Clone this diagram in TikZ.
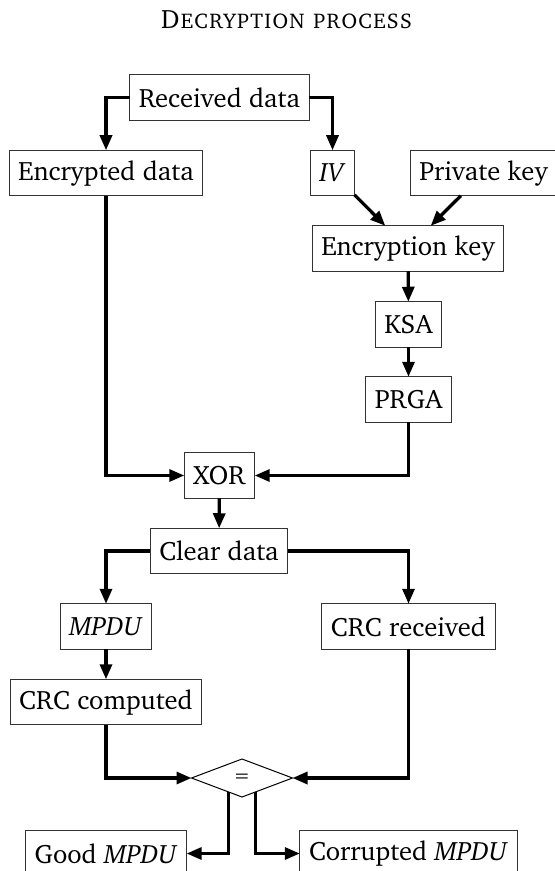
\documentclass[tikz,border=0pt]{standalone}
\usepackage[T1]{fontenc}
\usepackage{charter}
\usetikzlibrary{arrows.meta,shapes.geometric}
\newcommand\boxfont{\fontsize{13.3pt}{16pt}\selectfont}
\newcommand\signfont{\fontsize{10pt}{12pt}\selectfont}
\begin{document}
\begin{tikzpicture}[x=0.5pt,y=-0.5pt,
  box/.style={draw=black!80, line width=0.5pt, rectangle, inner xsep=4.6pt,
    inner ysep=0pt, minimum height=22.75pt, outer sep=0pt, font=\boxfont},
  link/.style={line width=1.6pt, -{Triangle[length=7.5pt,width=6pt]}},
  test/.style={draw=black, line width=0.5pt, diamond, inner sep=0pt, outer sep=0pt,
    minimum width=50.5pt, minimum height=19pt, font=\signfont}]
\useasboundingbox (0,0) rectangle (555,871);

\node[font=\boxfont, anchor=base] (title) at (286.5,28.3) {\textsc{Decryption process}};

% key schedule branch
\node[box] (recv)   at (219.5,97.5) {Received data};
\node[box] (enc)    at (106,173)    {Encrypted data};
\node[box] (iv)     at (332.5,173)  {\emph{IV}};
\node[box] (priv)   at (483.5,173)  {Private key};
\node[box] (enckey) at (408,248.5)  {Encryption key};
\node[box] (ksa)    at (408.5,324.5){KSA};
\node[box] (prga)   at (408.5,399.5){PRGA};
\node[box] (xor)    at (219.5,475.5){XOR};

% integrity check branch
\node[box] (clear)  at (219,551)    {Clear data};
\node[box] (mpdu)   at (106,626.5)  {\emph{MPDU}};
\node[box] (crcr)   at (408.5,626.5){CRC received};
\node[box] (crcc)   at (106,702)    {CRC computed};
\node[test] (eq)    at (242,778)    {=};
\node[box] (good)   at (106,853.5)  {Good \emph{MPDU}};
\node[box] (corr)   at (408.5,853.5){Corrupted \emph{MPDU}};

\draw[link] (recv.west) -| (enc.north);
\draw[link] (recv.east) -| (iv.north);
\draw[link] (iv) -- (enckey);
\draw[link] (priv) -- (enckey);
\draw[link] (enckey) -- (ksa);
\draw[link] (ksa) -- (prga);
\draw[link] (enc.south) |- (xor.west);
\draw[link] (prga.south) |- (xor.east);
\draw[link] (xor) -- (clear);
\draw[link] (clear.west) -| (mpdu.north);
\draw[link] (clear.east) -| (crcr.north);
\draw[link] (mpdu) -- (crcc);
\draw[link] (crcc.south) |- (eq.west);
\draw[link] (crcr.south) |- (eq.east);
\draw[link] (eq.-133) |- (good.east);
\draw[link] (eq.-47) |- (corr.west);
\end{tikzpicture}
\end{document}
